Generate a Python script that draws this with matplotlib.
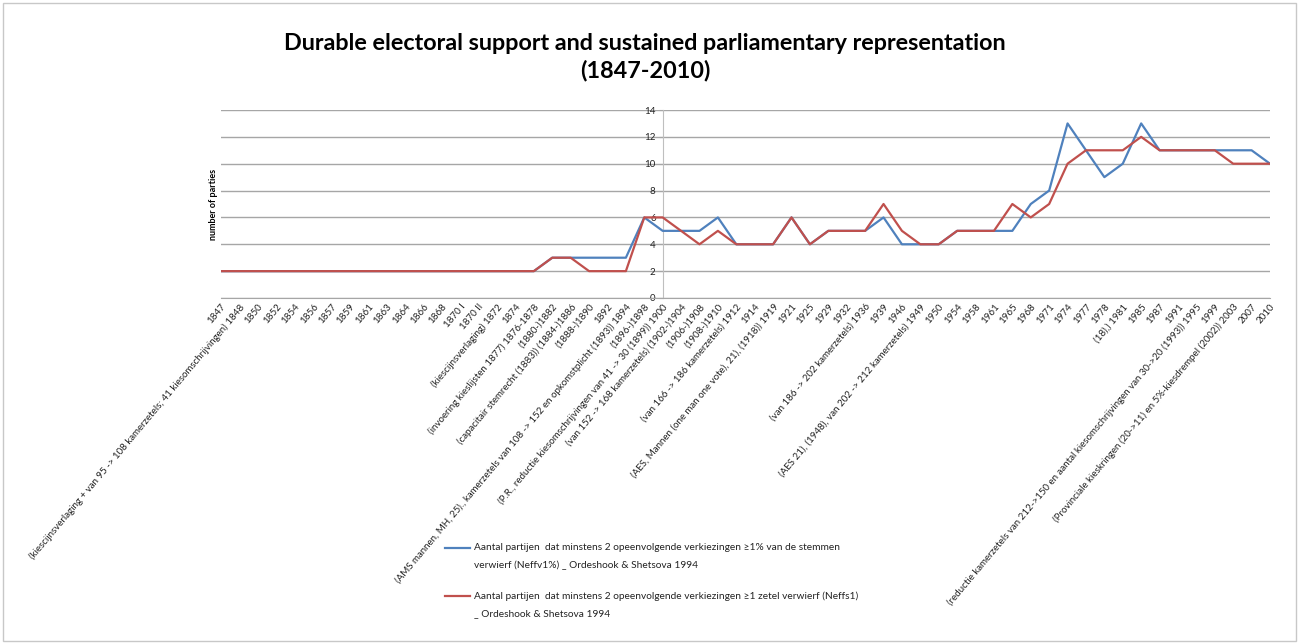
import matplotlib
matplotlib.use('Agg')
import matplotlib.pyplot as plt
from matplotlib.lines import Line2D
from matplotlib.patches import Rectangle

plt.rcParams['font.family'] = ['Lato', 'DejaVu Sans']

# categorieen (verkiezingen)
labels = [
    "1847",
    "(kiescijnsverlaging + van 95 -> 108 kamerzetels; 41 kiesomschrijvingen) 1848",
    "1850", "1852", "1854", "1856", "1857", "1859", "1861", "1863", "1864",
    "1866", "1868", "1870 I", "1870 II",
    "(kiescijnsverlaging) 1872",
    "1874",
    "(invoering kieslijsten 1877) 1876-1878",
    "(1880-)1882",
    "(capacitair stemrecht (1883)) (1884-)1886",
    "(1888-)1890",
    "1892",
    "(AMS mannen, MH, 25)., kamerzetels van 108 -> 152 en opkomstplicht (1893)) 1894",
    "(1896-)1898",
    "(P.R., reductie kiesomschrijvingen van 41 -> 30 (1899)) 1900",
    "(van 152 -> 168 kamerzetels) (1902-)1904",
    "(1906-)1908",
    "(1908-)1910",
    "(van 166 -> 186 kamerzetels) 1912",
    "1914",
    "(AES, Mannen (one man one vote), 21), (1918)) 1919",
    "1921", "1925", "1929", "1932",
    "(van 186 -> 202 kamerzetels) 1936",
    "1939", "1946",
    "(AES 21), (1948), van 202 -> 212 kamerzetels) 1949",
    "1950", "1954", "1958", "1961", "1965", "1968", "1971", "1974", "1977",
    "1978",
    "(18),) 1981",
    "1985", "1987", "1991",
    "(reductie kamerzetels van 212->150 en aantal kiesomschrijvingen van 30->20 (1993)) 1995",
    "1999",
    "(Provinciale kieskringen (20->11) en 5%-kiesdrempel (2002)) 2003",
    "2007", "2010",
]

neff_v1 = [2, 2, 2, 2, 2, 2, 2, 2, 2, 2, 2, 2, 2, 2, 2, 2, 2, 2,
           3, 3, 3, 3, 3, 6, 5, 5, 5, 6, 4, 4, 4, 6, 4, 5, 5, 5,
           6, 4, 4, 4, 5, 5, 5, 5, 7, 8, 13, 11, 9, 10, 13,
           11, 11, 11, 11, 11, 11, 10]
neff_s1 = [2, 2, 2, 2, 2, 2, 2, 2, 2, 2, 2, 2, 2, 2, 2, 2, 2, 2,
           3, 3, 2, 2, 2, 6, 6, 5, 4, 5, 4, 4, 4, 6, 4, 5, 5, 5,
           7, 5, 4, 4, 5, 5, 5, 7, 6, 7, 10, 11, 11, 11, 12,
           11, 11, 11, 11, 10, 10, 10]

label_v1 = ("Aantal partijen  dat minstens 2 opeenvolgende verkiezingen \u22651% van de stemmen\n"
            "verwierf (Neffv1%) _ Ordeshook & Shetsova 1994")
label_s1 = ("Aantal partijen  dat minstens 2 opeenvolgende verkiezingen \u22651 zetel verwierf (Neffs1)\n"
            "_ Ordeshook & Shetsova 1994")

blue = '#4F81BD'
red = '#C0504D'
grid = '#A6A6A6'
W, H = 1299, 644

fig = plt.figure(figsize=(W / 100, H / 100), dpi=100)
fig.patches.append(Rectangle((3 / W, 3 / H), 1 - 6 / W, 1 - 6 / H, transform=fig.transFigure,
                             fill=False, edgecolor='#C8C8C8', linewidth=1))

ax = fig.add_axes([221 / W, 1 - 298 / H, 1049 / W, 188 / H])
x = list(range(len(labels)))
ax.plot(x, neff_v1, color=blue, lw=1.6, zorder=3)
ax.plot(x, neff_s1, color=red, lw=1.6, zorder=3)

ax.set_xlim(0, len(labels) - 1)
ax.set_ylim(0, 14)
ax.set_yticks(range(0, 15, 2))
ax.yaxis.grid(True, color=grid, lw=1)
ax.set_axisbelow(True)

for s in ['top', 'right']:
    ax.spines[s].set_visible(False)
ax.spines['bottom'].set_color(grid)
ax.spines['left'].set_color('#BFBFBF')
# vertical axis crosses at category 1900
ax.spines['left'].set_position(('data', 24))

ax.tick_params(axis='y', labelsize=7, length=3, color=grid, pad=2, labelcolor='#222222')
ax.set_xticks(x)
ax.set_xticklabels(labels, rotation=50, ha='right', va='top', rotation_mode='anchor',
                   fontsize=7, color='#222222')
ax.tick_params(axis='x', length=0, pad=3)

fig.text(213 / W, 1 - 204 / H, 'number of parties', rotation=90, ha='center', va='center',
         fontsize=6.5, fontweight='bold')

fig.text(645 / W, 1 - 57 / H,
         'Durable electoral support and sustained parliamentary representation\n(1847-2010)',
         ha='center', va='center', fontsize=16.8, fontweight='bold', linespacing=1.35)

# legend, drawn by hand for the wide line spacing
for col, lab, ytop in [(blue, label_v1, 548), (red, label_s1, 596)]:
    fig.add_artist(Line2D([445 / W, 470 / W], [1 - ytop / H] * 2, color=col, lw=1.6,
                          transform=fig.transFigure))
    fig.text(474 / W, 1 - (ytop - 5) / H, lab, ha='left', va='top', fontsize=7.3,
             linespacing=2.2, color='#222222')

fig.savefig('out.png', dpi=100)
